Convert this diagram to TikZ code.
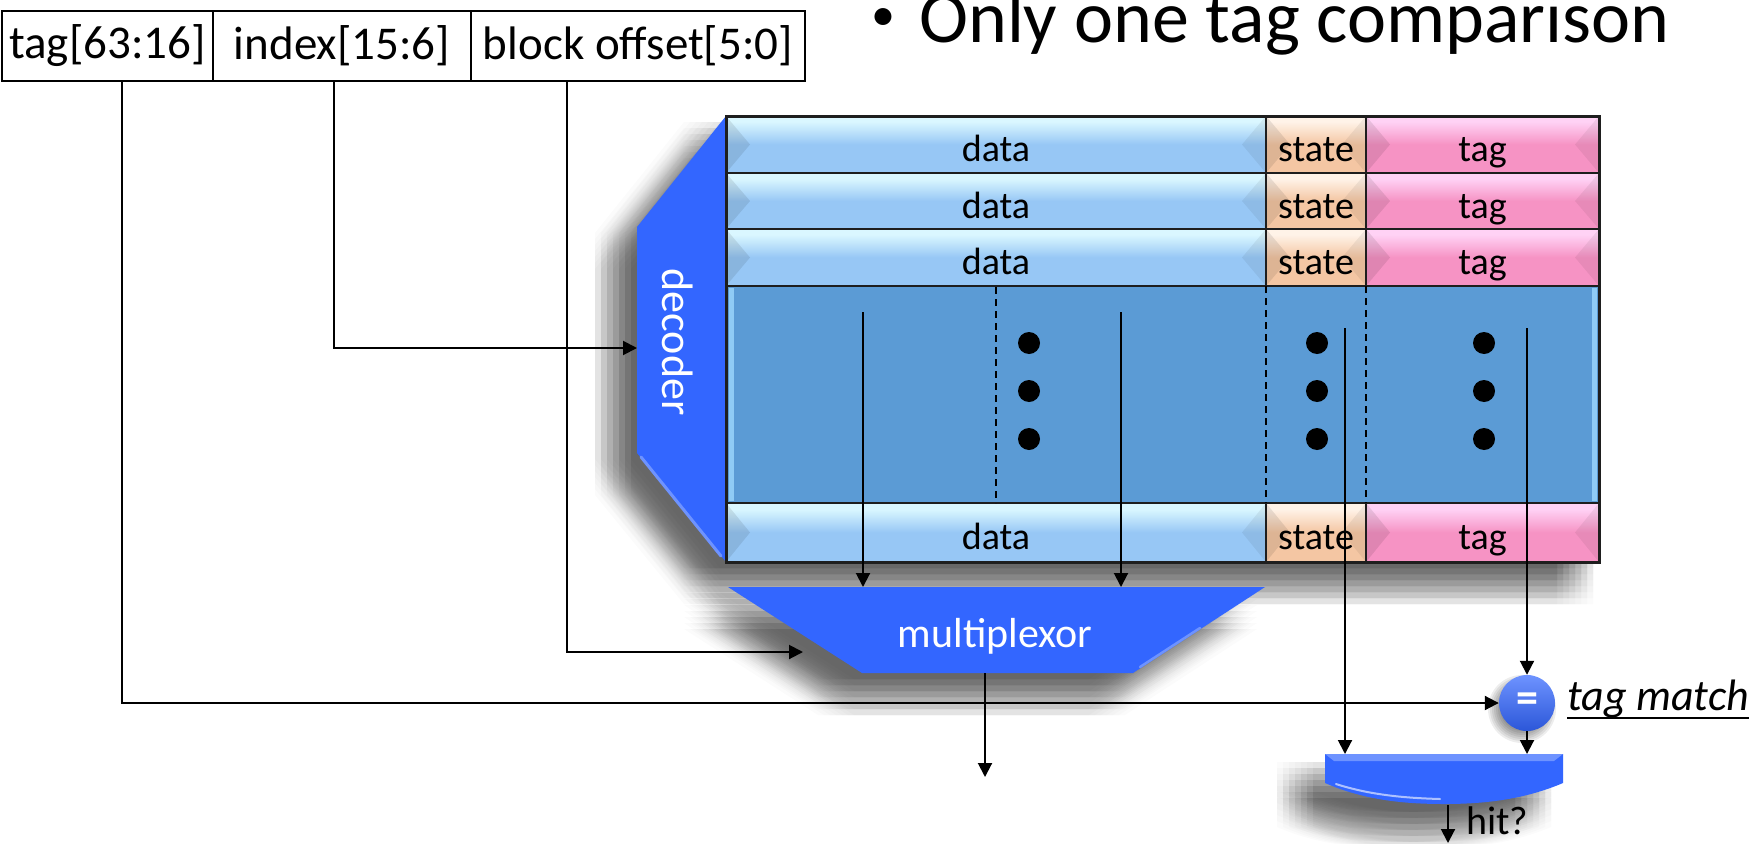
\documentclass[tikz,border=0pt]{standalone}
\usepackage{fontspec}
\setmainfont{Carlito}
\usetikzlibrary{arrows.meta}

\definecolor{database}{HTML}{97C7F5}
\definecolor{datalight}{HTML}{DAF7FF}
\definecolor{statebase}{HTML}{F4C6A3}
\definecolor{statelight}{HTML}{FFF3E8}
\definecolor{tagbase}{HTML}{F693C4}
\definecolor{taglight}{HTML}{FFD2F5}
\definecolor{midblue}{HTML}{5B9BD5}
\definecolor{midlight}{HTML}{8FCBF5}
\definecolor{logicblue}{HTML}{3366FF}
\definecolor{logiclight}{HTML}{6E93FF}
\definecolor{cellline}{HTML}{1E1E1E}

% cell fills: lighter band along the top, flat base colour below
\pgfdeclareverticalshading{datashade}{100bp}{color(0bp)=(database); color(50bp)=(database); color(70bp)=(datalight); color(100bp)=(datalight)}
\pgfdeclareverticalshading{stateshade}{100bp}{color(0bp)=(statebase); color(50bp)=(statebase); color(70bp)=(statelight); color(100bp)=(statelight)}
\pgfdeclareverticalshading{tagshade}{100bp}{color(0bp)=(tagbase); color(50bp)=(tagbase); color(70bp)=(taglight); color(100bp)=(taglight)}

% soft cast shadow: the closed path #3, offset by (#1,#2), smeared by a 7x7 box of copies
\newcommand\castshadow[3]{%
  \foreach \u in {-18,-12,...,18}
    \foreach \v in {-18,-12,...,18}
      {\fill[black, opacity=0.016, shift={({#1+\u},{#2+\v})}] #3;}}

\tikzset{
  wire/.style={line width=2pt, draw=black},
  arr/.style={wire, -{Triangle[length=14pt,width=14pt]}},
  field/.style={draw, line width=2pt, inner sep=0pt, outer sep=0pt,
    minimum height=70pt, anchor=north west, font=\fontsize{47}{50}\selectfont},
  bevel/.style={path picture={
    \fill[black,opacity=0.09] (path picture bounding box.north west)
      -- ([xshift=24pt]path picture bounding box.west)
      -- (path picture bounding box.south west) -- cycle;
    \fill[black,opacity=0.06] (path picture bounding box.north east)
      -- ([xshift=-24pt]path picture bounding box.east)
      -- (path picture bounding box.south east) -- cycle;}},
  cell/.style={draw=cellline, line width=2pt, inner sep=0pt, outer sep=0pt,
    anchor=north west, text height=40pt, text depth=6pt,
    font=\fontsize{38}{40}\selectfont, bevel, minimum height=#1},
  datacell/.style={cell=#1, shade, shading=datashade, minimum width=540pt},
  statecell/.style={cell=#1, shade, shading=stateshade, minimum width=100pt},
  tagcell/.style={cell=#1, shade, shading=tagshade, minimum width=233pt},
  dashline/.style={line width=1.5pt, dash pattern=on 7pt off 5pt},
  whitelabel/.style={text=white, inner sep=0pt},
}

\begin{document}
\begin{tikzpicture}[x=1pt,y=-1pt]
\useasboundingbox (0,0) rectangle (1758,843);
\clip (0,0) rectangle (1758,843);
\fill[white] (0,0) rectangle (1758,843);

% heading
\node[anchor=base west, inner sep=0pt, font=\fontsize{74}{80}\selectfont] (title) at (919,43)
  {\llap{\raisebox{12pt}{\fontsize{48}{48}\selectfont\textbullet}\hspace{24pt}}Only one tag comparison};

% address fields
\node[field, minimum width=211pt] (tagf) at (2,11) {tag[63:16]};
\node[field, minimum width=258pt] (idxf) at (213,11) {index[15:6]};
\node[field, minimum width=334pt] (offf) at (471,11) {block offset[5:0]};
\coordinate (tagtap) at (122,81);
\coordinate (idxtap) at (334,81);
\coordinate (offtap) at (567,81);

% shadows under the array, the multiplexor, the hit gate and the comparator
\castshadow{-24}{24}{(637,227) -- (726,116) -- (1599,116) -- (1599,562) -- (726,562) -- (637,453) -- cycle}
\castshadow{-26}{24}{(728,587) -- (1265,587) -- (1133,673) -- (862,673) -- cycle}
\castshadow{-30}{26}{(1325,754) -- (1563,754) -- (1563,783) .. controls (1523,800) and (1483,804) .. (1444,804) .. controls (1403,804) and (1364,800) .. (1325,783) -- cycle}
\foreach \r in {34,32,...,22}
  \fill[black, opacity=0.07] (1522,709) circle[radius=\r pt];

% decoder
\fill[logicblue] (726,116) -- (637,227) -- (637,453) -- (726,562) -- cycle;
\draw[logiclight, line width=3pt, line cap=round] (641,457) -- (721,556);
\node[whitelabel, rotate=-90, font=\fontsize{44}{44}\selectfont] (dec) at (678,342) {decoder};
\coordinate (decin) at (637,348);

% middle block of the array
\node[draw=cellline, line width=2pt, fill=midblue, minimum width=873pt, minimum height=217pt,
  anchor=north west, inner sep=0pt, outer sep=0pt] (mid) at (726,286) {};
\fill[midlight] (729,288) rectangle (734,501);
\fill[midlight] (1592,288) rectangle (1597,501);

% cache rows
\node[datacell=57pt]  (d1) at (726,116) {data};
\node[statecell=57pt] (s1) at (1266,116) {state};
\node[tagcell=57pt]   (t1) at (1366,116) {tag};
\node[datacell=56pt]  (d2) at (726,173) {data};
\node[statecell=56pt] (s2) at (1266,173) {state};
\node[tagcell=56pt]   (t2) at (1366,173) {tag};
\node[datacell=57pt]  (d3) at (726,229) {data};
\node[statecell=57pt] (s3) at (1266,229) {state};
\node[tagcell=57pt]   (t3) at (1366,229) {tag};
\node[datacell=59pt]  (d4) at (726,503) {data};
\node[statecell=59pt] (s4) at (1266,503) {state};
\node[tagcell=59pt]   (t4) at (1366,503) {tag};
\draw[cellline, line width=3pt] (d1.north west) rectangle (t4.south east);

% column separators inside the middle block
\draw[dashline] (996,287) -- (996,503);
\draw[dashline] (s3.south west) -- (s4.north west);
\draw[dashline] (t3.south west) -- (t4.north west);

% elided rows
\foreach \x in {1029,1317,1484}
  \foreach \y in {343,391,439}
    \fill (\x,\y) circle[radius=11pt];

% multiplexor
\fill[logicblue] (728,587) -- (1265,587) -- (1133,673) -- (862,673) -- cycle;
\draw[logiclight, line width=2.5pt, line cap=round] (1140,667) -- (1200,628);
\node[whitelabel, font=\fontsize{42}{42}\selectfont] (mux) at (995,636) {multiplexor};
\coordinate (muxA) at (863,587);
\coordinate (muxB) at (1121,587);
\coordinate (muxin) at (803,652);
\coordinate (muxout) at (985,673);
\coordinate (dataout) at (985,777);

% hit gate
\fill[logicblue] (1325,754) -- (1563,754) -- (1563,783)
  .. controls (1523,800) and (1483,804) .. (1444,804)
  .. controls (1403,804) and (1364,800) .. (1325,783) -- cycle;
\fill[logiclight] (1325,754) -- (1563,754) -- (1554,761) -- (1334,761) -- cycle;
\draw[white, opacity=0.6, line width=2pt, line cap=round]
  (1336,784) .. controls (1370,795) and (1405,798) .. (1440,799);
\coordinate (gateA) at (1345,754);
\coordinate (gateB) at (1527,754);
\coordinate (gateout) at (1448,805);
\coordinate (hitend) at (1448,843);

% tag comparator
\node[circle, minimum size=56pt, inner sep=0pt, top color=logiclight, bottom color=logicblue!85!black,
  text=white, font=\bfseries\fontsize{44}{44}\selectfont] (eq) at (1527,703) {=};
\node[anchor=base west, inner sep=0pt, font=\itshape\fontsize{44}{44}\selectfont] (tm) at (1567,710) {tag match};
\draw[line width=2pt] ([yshift=-8pt]tm.base west) -- ([yshift=-8pt]tm.base east);

% taps inside the array
\coordinate (dA) at (863,312);
\coordinate (dB) at (1121,312);
\coordinate (sA) at (1345,328);
\coordinate (tA) at (1527,328);

% connectors
\draw[arr] (tagtap) |- (eq.west);
\draw[arr] (idxtap) |- (decin);
\draw[arr] (offtap) |- (muxin);
\draw[arr] (dA) -- (muxA);
\draw[arr] (dB) -- (muxB);
\draw[arr] (sA) -- (gateA);
\draw[arr] (tA) -- (eq.north);
\draw[arr] (eq.south) -- (gateB);
\draw[arr] (muxout) -- (dataout);
\draw[arr] (gateout) -- (hitend);

\node[anchor=base west, inner sep=0pt, font=\fontsize{40}{40}\selectfont] (hit) at (1466,834) {hit?};
\end{tikzpicture}
\end{document}
